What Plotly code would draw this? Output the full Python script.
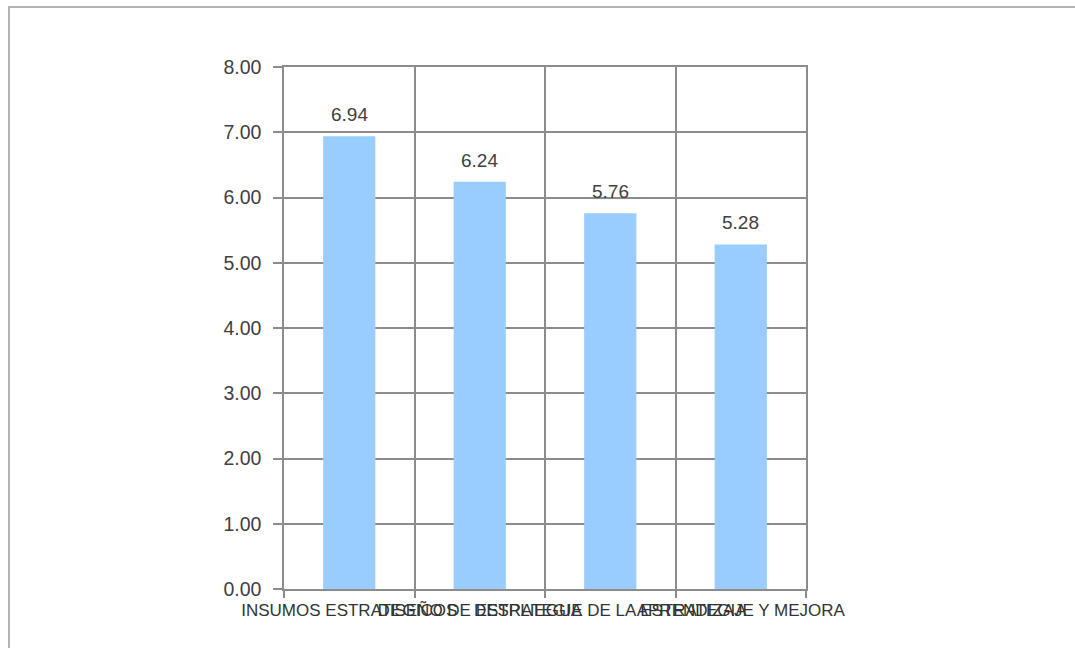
import plotly.graph_objects as go

categories = ["INSUMOS ESTRATEGICOS", "DISEÑO DE ESTRATEGIA",
              "DESPLIEGUE DE LA ESTRATEGIA", "APRENDIZAJE Y MEJORA"]
values = [6.94, 6.24, 5.76, 5.28]
y_ticks = [0, 1, 2, 3, 4, 5, 6, 7, 8]

GRID = "#8c8c8c"
TEXT = "#404040"

fig = go.Figure()
fig.add_trace(go.Bar(
    x=categories, y=values,
    marker=dict(color="#99ccff", line=dict(width=0)),
    hoverinfo="skip",
))

for c, v in zip(categories, values):
    fig.add_annotation(x=c, y=v, text=f"{v:.2f}", showarrow=False,
                       yanchor="bottom", yshift=9,
                       font=dict(family="Liberation Sans, Arial, sans-serif", size=19, color=TEXT))

fig.update_layout(
    width=1075, height=648,
    margin=dict(l=284, r=269, t=67, b=59),
    paper_bgcolor="white", plot_bgcolor="white",
    bargap=0.6, showlegend=False,
    shapes=[dict(type="rect", xref="paper", yref="paper",
                 x0=(9 - 284) / 522, x1=(1085 - 284) / 522,
                 y0=(589 - 660) / 522, y1=1 + (67 - 7) / 522,
                 line=dict(color="#b3b3b3", width=2), layer="below")],
)
fig.update_xaxes(
    type="category", tickson="boundaries", tickangle=0,
    showgrid=True, gridcolor=GRID, gridwidth=1.5,
    showline=True, linecolor=GRID, linewidth=1.5, mirror=True,
    ticks="outside", ticklen=7, tickcolor=GRID, tickwidth=1.5,
    ticklabelstandoff=5,
    tickfont=dict(family="Liberation Sans, Arial, sans-serif", size=17, color="#333333"),
)
fig.update_yaxes(
    range=[0, 8], tickvals=y_ticks, tickformat=".2f",
    showgrid=True, gridcolor=GRID, gridwidth=1.5,
    showline=True, linecolor=GRID, linewidth=1.5, mirror=True,
    ticks="outside", ticklen=9, tickcolor=GRID, tickwidth=1.5,
    ticklabelstandoff=8,
    tickfont=dict(family="Liberation Sans, Arial, sans-serif", size=19.5, color=TEXT),
    zeroline=False,
)

fig.write_html("out.html")
